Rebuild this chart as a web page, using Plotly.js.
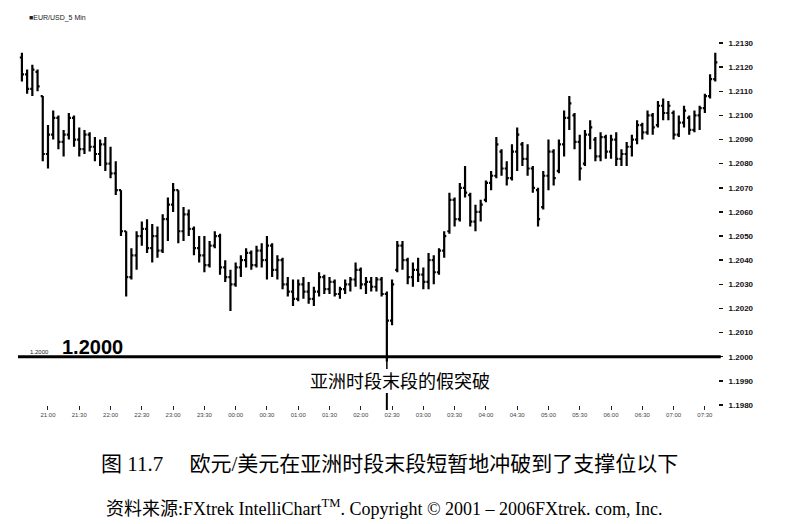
<!DOCTYPE html>
<html>
<head>
<meta charset="utf-8">
<script src="https://cdn.plot.ly/plotly-3.0.1.min.js"></script>
<style>html,body{margin:0;padding:0;background:#fff;}#chart{width:792px;height:524px;}</style>
</head>
<body>
<div id="chart"></div>
<script>
// EUR/USD 5-minute bars
const openPrices = [
 1.2124,1.2117,1.2111,1.2118,1.2108,1.2084,1.2092,1.2099,1.2089,1.2092,
 1.2099,1.2090,1.2086,1.2092,1.2087,1.2084,1.2088,1.2080,1.2076,1.2069,
 1.2052,1.2033,1.2042,1.2050,1.2053,1.2045,1.2050,1.2044,1.2057,1.2063,
 1.2069,1.2052,1.2059,1.2053,1.2045,1.2042,1.2038,1.2046,1.2050,1.2037,
 1.2033,1.2030,1.2037,1.2040,1.2043,1.2038,1.2044,1.2040,1.2046,1.2036,
 1.2040,1.2030,1.2027,1.2024,1.2030,1.2027,1.2024,1.2027,1.2033,1.2028,
 1.2031,1.2026,1.2028,1.2030,1.2032,1.2036,1.2030,1.2031,1.2029,1.2032,
 1.2026,1.2015,1.2036,1.2046,1.2040,1.2033,1.2036,1.2034,1.2031,1.2040,
 1.2035,1.2044,1.2052,1.2065,1.2057,1.2070,1.2067,1.2056,1.2060,1.2065,
 1.2072,1.2075,1.2085,1.2078,1.2074,1.2085,1.2088,1.2082,1.2078,1.2069,
 1.2062,1.2075,1.2085,1.2077,1.2088,1.2099,1.2100,1.2089,1.2080,1.2092,
 1.2090,1.2083,1.2091,1.2085,1.2090,1.2082,1.2084,1.2087,1.2090,1.2096,
 1.2093,1.2100,1.2096,1.2104,1.2101,1.2101,1.2092,1.2097,1.2099,1.2094,
 1.2100,1.2103,1.2108,1.2115];
const highPrices = [
 1.2126,1.2119,1.2121,1.2119,1.2108,1.2096,1.2102,1.2100,1.2094,1.2101,
 1.2100,1.2095,1.2094,1.2093,1.2091,1.2090,1.2091,1.2087,1.2081,1.2069,
 1.2052,1.2045,1.2052,1.2056,1.2057,1.2055,1.2054,1.2059,1.2066,1.2072,
 1.2069,1.2062,1.2061,1.2054,1.2050,1.2050,1.2048,1.2052,1.2051,1.2040,
 1.2036,1.2039,1.2042,1.2045,1.2044,1.2046,1.2047,1.2050,1.2047,1.2042,
 1.2041,1.2033,1.2032,1.2032,1.2033,1.2031,1.2029,1.2035,1.2034,1.2033,
 1.2032,1.2029,1.2032,1.2033,1.2039,1.2037,1.2033,1.2033,1.2033,1.2033,
 1.2027,1.2032,1.2048,1.2048,1.2041,1.2039,1.2041,1.2037,1.2043,1.2042,
 1.2045,1.2052,1.2068,1.2066,1.2072,1.2079,1.2068,1.2063,1.2065,1.2073,
 1.2077,1.2091,1.2086,1.2081,1.2088,1.2095,1.2089,1.2088,1.2079,1.2070,
 1.2077,1.2090,1.2086,1.2090,1.2102,1.2108,1.2101,1.2092,1.2094,1.2098,
 1.2091,1.2093,1.2092,1.2092,1.2093,1.2086,1.2089,1.2092,1.2098,1.2097,
 1.2102,1.2101,1.2106,1.2107,1.2106,1.2102,1.2100,1.2104,1.2100,1.2102,
 1.2104,1.2109,1.2117,1.2126];
const lowPrices = [
 1.2114,1.2109,1.2108,1.2110,1.2081,1.2078,1.2090,1.2086,1.2083,1.2090,
 1.2087,1.2083,1.2084,1.2085,1.2081,1.2079,1.2077,1.2074,1.2067,1.2050,
 1.2025,1.2032,1.2036,1.2046,1.2043,1.2039,1.2041,1.2043,1.2048,1.2060,
 1.2047,1.2048,1.2050,1.2042,1.2039,1.2035,1.2037,1.2045,1.2034,1.2031,
 1.2019,1.2029,1.2033,1.2037,1.2036,1.2037,1.2037,1.2032,1.2033,1.2032,
 1.2028,1.2025,1.2021,1.2023,1.2024,1.2022,1.2021,1.2025,1.2026,1.2026,
 1.2025,1.2024,1.2026,1.2027,1.2029,1.2028,1.2026,1.2027,1.2027,1.2025,
 1.1998,1.2013,1.2035,1.2036,1.2030,1.2029,1.2031,1.2028,1.2028,1.2030,
 1.2034,1.2041,1.2051,1.2054,1.2056,1.2066,1.2054,1.2052,1.2056,1.2064,
 1.2069,1.2074,1.2075,1.2071,1.2073,1.2077,1.2079,1.2075,1.2068,1.2054,
 1.2061,1.2069,1.2071,1.2076,1.2083,1.2094,1.2086,1.2073,1.2079,1.2086,
 1.2081,1.2081,1.2082,1.2082,1.2079,1.2079,1.2079,1.2083,1.2088,1.2090,
 1.2092,1.2092,1.2095,1.2098,1.2098,1.2090,1.2091,1.2095,1.2092,1.2093,
 1.2094,1.2101,1.2107,1.2114];
const closePrices = [
 1.2117,1.2111,1.2119,1.2112,1.2084,1.2092,1.2099,1.2089,1.2092,1.2099,
 1.2090,1.2086,1.2092,1.2087,1.2084,1.2088,1.2080,1.2076,1.2069,1.2052,
 1.2033,1.2042,1.2050,1.2053,1.2045,1.2050,1.2044,1.2057,1.2063,1.2069,
 1.2052,1.2059,1.2053,1.2045,1.2042,1.2038,1.2046,1.2050,1.2037,1.2033,
 1.2030,1.2037,1.2040,1.2043,1.2038,1.2044,1.2040,1.2046,1.2036,1.2040,
 1.2030,1.2027,1.2024,1.2030,1.2027,1.2024,1.2027,1.2033,1.2028,1.2031,
 1.2026,1.2028,1.2030,1.2032,1.2036,1.2030,1.2031,1.2029,1.2032,1.2026,
 1.2015,1.2030,1.2046,1.2040,1.2033,1.2036,1.2034,1.2031,1.2040,1.2035,
 1.2044,1.2050,1.2065,1.2057,1.2070,1.2068,1.2056,1.2060,1.2063,1.2072,
 1.2075,1.2088,1.2078,1.2074,1.2085,1.2092,1.2082,1.2078,1.2070,1.2057,
 1.2075,1.2085,1.2074,1.2088,1.2099,1.2105,1.2089,1.2078,1.2092,1.2095,
 1.2083,1.2091,1.2085,1.2090,1.2082,1.2084,1.2087,1.2090,1.2096,1.2093,
 1.2100,1.2095,1.2104,1.2101,1.2104,1.2092,1.2097,1.2102,1.2094,1.2100,
 1.2103,1.2108,1.2115,1.2122];

// axis ticks
const timeTickBars = [5,11,17,23,29,35,41,47,53,59,65,71,77,83,89,95,101,107,113,119,125,131];
const timeTickLabels = ["21:00","21:30","22:00","22:30","23:00","23:30","00:00","00:30","01:00","01:30","02:00",
  "02:30","03:00","03:30","04:00","04:30","05:00","05:30","06:00","06:30","07:00","07:30"];
const priceTicks = [1.1980,1.1990,1.2000,1.2010,1.2020,1.2030,1.2040,1.2050,1.2060,1.2070,1.2080,1.2090,1.2100,1.2110,1.2120,1.2130];
const priceTickLabels = priceTicks.map(v => v.toFixed(4));

const supportLevel = 1.2000;
const falseBreakBar = 70;
const chartName = "■EUR/USD_5 Min";
const breakLabel = "亚洲时段末段的假突破";
const caption = "图 11.7　 欧元/美元在亚洲时段末段短暂地冲破到了支撑位以下";
const source = "资料来源:FXtrek IntelliChart<sup>TM</sup>. Copyright © 2001 – 2006FXtrek. com, Inc.";

const barIndex = openPrices.map((_, i) => i);

const trace = {
  type: 'ohlc',
  x: barIndex,
  open: openPrices, high: highPrices, low: lowPrices, close: closePrices,
  increasing: {line: {color: '#000', width: 2.2}},
  decreasing: {line: {color: '#000', width: 2.2}},
  tickwidth: 0.4,
  hoverinfo: 'skip',
  showlegend: false
};

// plot area: 18..718 px horizontally, 43..405 px vertically
const M = {l: 18, r: 74, t: 43, b: 119};
const plotH = 524 - M.t - M.b;
const py = px => (524 - M.b - px) / plotH;
const pxX = px => (px - M.l) / (792 - M.l - M.r);

const layout = {
  width: 792, height: 524, autosize: false,
  margin: M,
  paper_bgcolor: '#fff', plot_bgcolor: '#fff',
  showlegend: false,
  xaxis: {
    range: [-0.75, 133.52], rangeslider: {visible: false},
    showgrid: false, zeroline: false, showline: false,
    tickmode: 'array', tickvals: timeTickBars, ticktext: timeTickLabels,
    ticks: 'outside', ticklen: 4, tickwidth: 1, tickcolor: '#222',
    tickfont: {family: 'Liberation Sans, Arial', size: 6, color: '#444'}
  },
  yaxis: {
    range: [1.1980, 1.2130], side: 'right',
    showgrid: false, zeroline: false, showline: false,
    tickmode: 'array', tickvals: priceTicks, ticktext: priceTickLabels,
    ticks: 'outside', ticklen: 4, tickwidth: 1.5, tickcolor: '#111',
    ticklabelstandoff: 4,
    tickfont: {family: 'Liberation Sans, Arial', size: 8, color: '#111', weight: 'bold'}
  },
  shapes: [
    {type: 'line', xref: 'paper', yref: 'y', x0: 0, x1: 1.004, y0: supportLevel, y1: supportLevel,
     line: {color: '#000', width: 3}},
    {type: 'line', xref: 'x', yref: 'paper', x0: falseBreakBar, x1: falseBreakBar, y0: py(357), y1: py(369),
     line: {color: '#000', width: 1.5}},
    {type: 'line', xref: 'x', yref: 'paper', x0: falseBreakBar, x1: falseBreakBar, y0: py(393), y1: py(410),
     line: {color: '#000', width: 2}}
  ],
  annotations: [
    {xref: 'paper', yref: 'paper', x: pxX(27), y: py(18), xanchor: 'left', yanchor: 'middle',
     text: chartName, showarrow: false, font: {family: 'Liberation Sans, Arial', size: 7, color: '#222'}},
    {xref: 'paper', yref: 'y', x: pxX(29), y: supportLevel, xanchor: 'left', yanchor: 'bottom', yshift: 1,
     text: '1.2000', showarrow: false, borderpad: 0, font: {family: 'Liberation Sans, Arial', size: 6, color: '#222'}},
    {xref: 'paper', yref: 'y', x: pxX(61), y: supportLevel, xanchor: 'left', yanchor: 'bottom', yshift: -2,
     text: '<b>1.2000</b>', showarrow: false, borderpad: 0, font: {family: 'Liberation Sans, Arial', size: 20, color: '#000'}},
    {xref: 'x', yref: 'paper', x: falseBreakBar, y: py(380), xanchor: 'center', yanchor: 'middle', xshift: 13,
     text: breakLabel, showarrow: false, font: {family: 'Noto Sans CJK SC', size: 18, color: '#000'}},
    {xref: 'paper', yref: 'paper', x: pxX(389), y: py(464), xanchor: 'center', yanchor: 'middle',
     text: caption, showarrow: false, font: {family: 'Liberation Serif, Noto Sans CJK SC', size: 21, color: '#000'}},
    {xref: 'paper', yref: 'paper', x: pxX(384), y: py(507), xanchor: 'center', yanchor: 'middle',
     text: source, showarrow: false, font: {family: 'Liberation Serif, Noto Sans CJK SC', size: 18, color: '#000'}}
  ]
};

Plotly.newPlot('chart', [trace], layout, {displayModeBar: false, staticPlot: true});
</script>
</body>
</html>
